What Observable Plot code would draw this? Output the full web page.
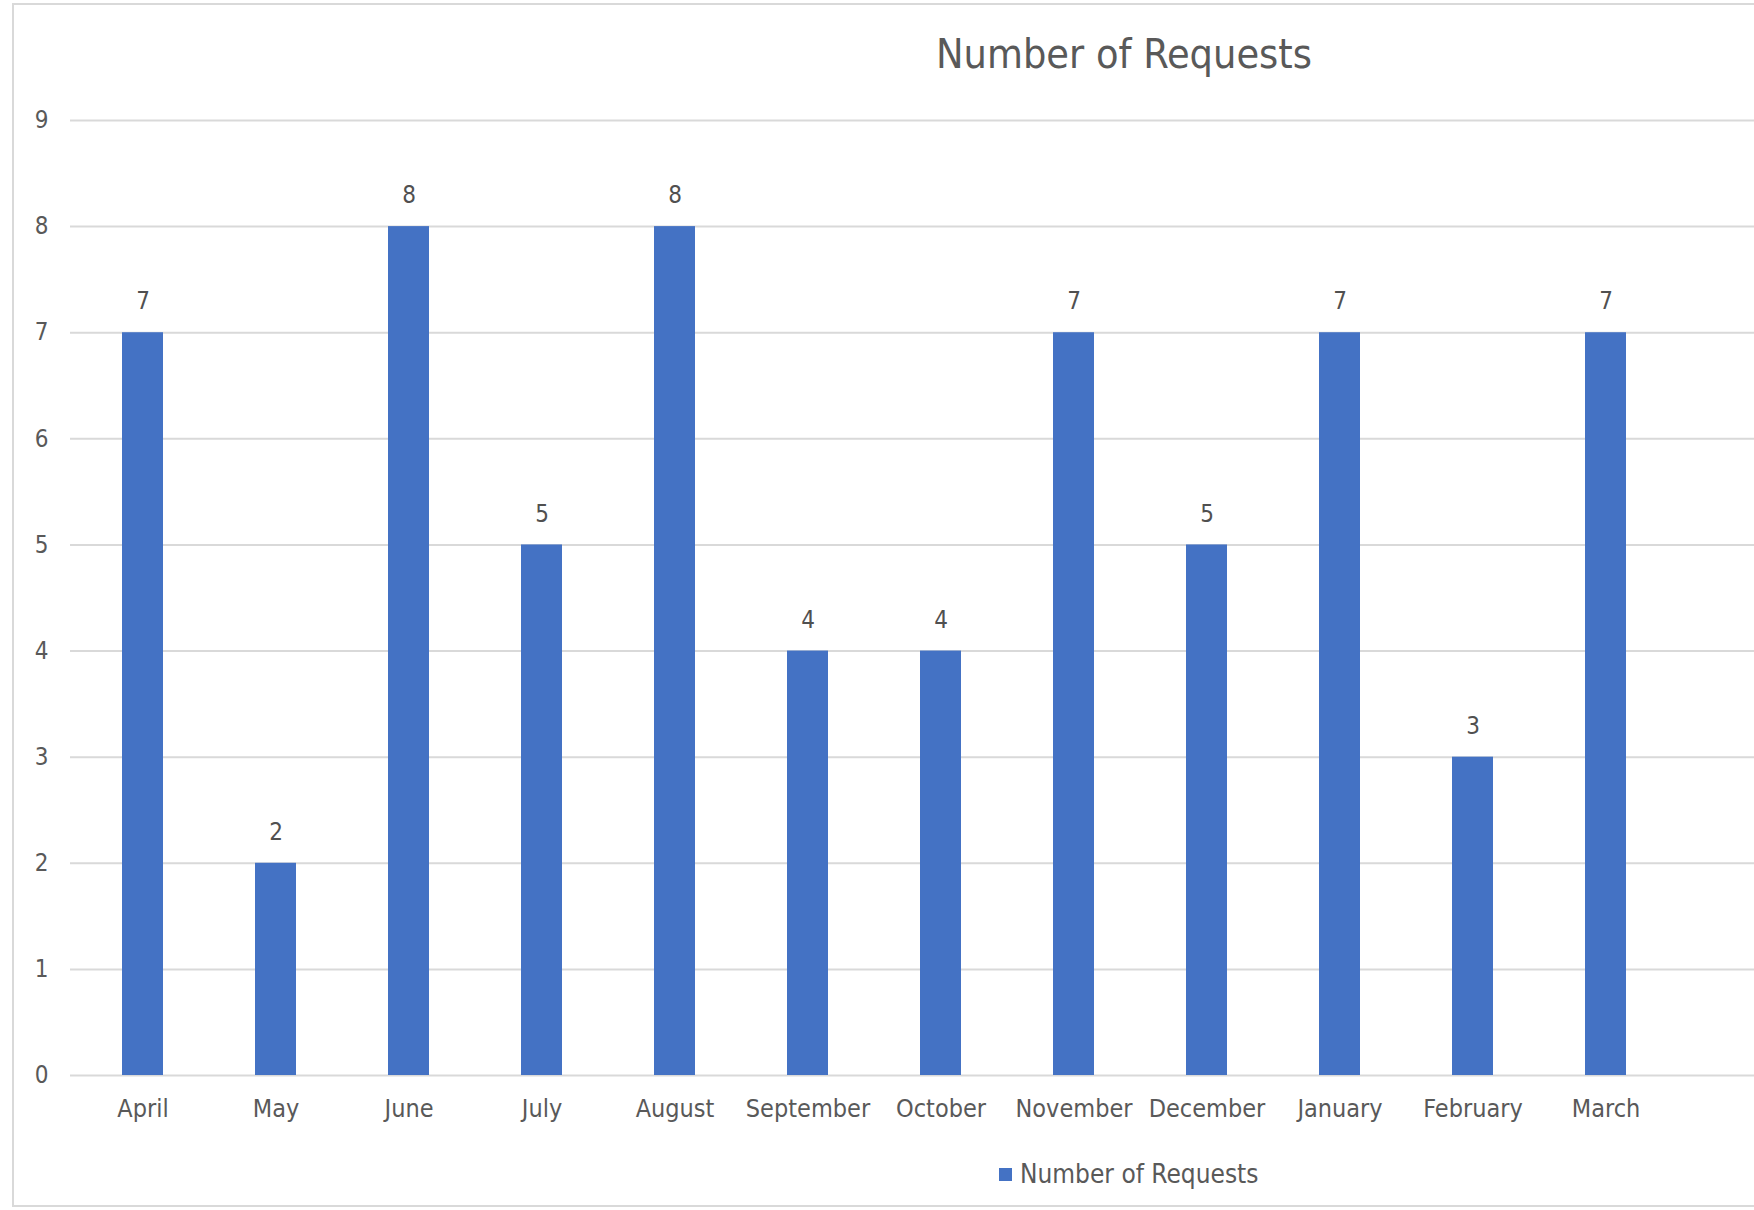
<!DOCTYPE html>
<html>
<head>
<meta charset="utf-8">
<script src="https://cdn.jsdelivr.net/npm/d3@7"></script>
<script src="https://cdn.jsdelivr.net/npm/@observablehq/plot@0.6"></script>
<style>
  html, body { margin: 0; padding: 0; background: #fff; }
  #wrap { position: relative; width: 1754px; height: 1210px; overflow: hidden; font-family: "Liberation Sans Narrow", "DejaVu Sans Condensed", "Liberation Sans", sans-serif; }
  #border { position: absolute; left: 12px; top: 3px; width: 1760px; height: 1204px; border: 2px solid #d9d9d9; box-sizing: border-box; }
  #title { position: absolute; left: 0; width: 2248px; top: 34px; text-align: center; font-size: 41px; color: #595959; line-height: 1; }
  #legend { position: absolute; left: 999px; top: 1161px; font-size: 26px; color: #595959; display: flex; align-items: center; line-height: 1; }
  #legend .sw { width: 13px; height: 13px; margin-right: 8px; }
  #chart { position: absolute; left: 0; top: 0; }
</style>
</head>
<body>
<div id="wrap">
  <div id="border"></div>
  <div id="chart"></div>
  <div id="title"></div>
  <div id="legend"></div>
</div>
<script>
const months = ["April","May","June","July","August","September","October","November","December","January","February","March"];
const requests = [7, 2, 8, 5, 8, 4, 4, 7, 5, 7, 3, 7];
const yTicks = [0,1,2,3,4,5,6,7,8,9];
const seriesName = "Number of Requests";
const barColor = "#4472C4";

const data = months.map((m, i) => ({month: m, value: requests[i]}));

const chart = Plot.plot({
  width: 1754,
  height: 1210,
  marginLeft: 70,
  marginRight: 0,
  marginTop: 120,
  marginBottom: 135,
  style: {fontFamily: '"Liberation Sans Narrow", "DejaVu Sans Condensed", sans-serif', color: "#595959", background: "transparent"},
  x: {domain: months, range: [74, 1674], paddingInner: 0.69, paddingOuter: 0.345, label: null},
  y: {domain: [0, 9], ticks: yTicks, label: null},
  marks: [
    Plot.ruleY(yTicks, {stroke: "#d9d9d9", strokeWidth: 2}),
    Plot.barY(data, {x: "month", y: "value", fill: barColor}),
    Plot.text(data, {x: "month", y: "value", text: d => String(d.value), dy: -31, fontSize: 24, fill: "#505050"}),
    Plot.axisY({ticks: yTicks, tickSize: 0, tickPadding: 22, fontSize: 24, label: null}),
    Plot.axisX({tickSize: 0, tickPadding: 24, fontSize: 25, label: null})
  ]
});
document.getElementById("chart").appendChild(chart);
document.getElementById("title").textContent = seriesName;
const lg = document.getElementById("legend");
const sw = document.createElement("span"); sw.className = "sw"; sw.style.background = barColor;
const lt = document.createElement("span"); lt.textContent = seriesName;
lg.appendChild(sw); lg.appendChild(lt);
</script>
</body>
</html>
